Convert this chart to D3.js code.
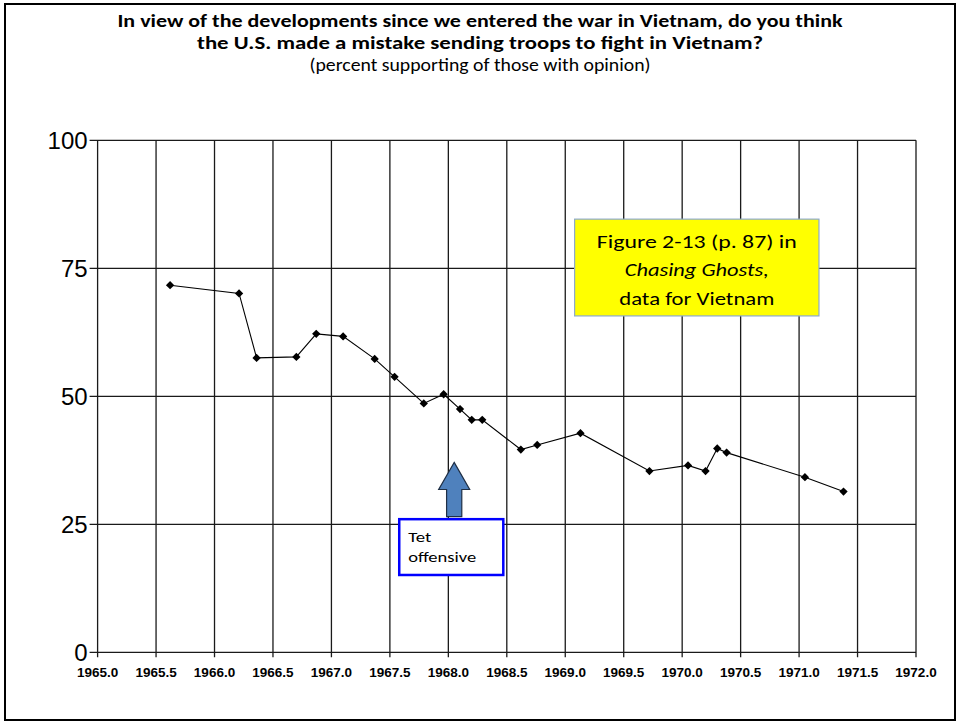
<!DOCTYPE html>
<html>
<head>
<meta charset="utf-8">
<script src="https://cdn.jsdelivr.net/npm/d3@7"></script>
<style>
  body { margin: 0; background: #fff; }
  svg { display: block; }
</style>
</head>
<body>
<div id="chart"></div>
<script>
// survey dates (decimal year) and percent saying "mistake"
const dates = [1965.62, 1966.21, 1966.36, 1966.70, 1966.87, 1967.10, 1967.37, 1967.54,
  1967.79, 1967.96, 1968.10, 1968.20, 1968.29, 1968.62, 1968.76, 1969.13,
  1969.72, 1970.05, 1970.20, 1970.30, 1970.38, 1971.05, 1971.38];
const pct = [71.7, 70.1, 57.5, 57.7, 62.2, 61.7, 57.3, 53.8,
  48.6, 50.4, 47.5, 45.4, 45.4, 39.6, 40.5, 42.8,
  35.4, 36.5, 35.4, 39.8, 39.0, 34.2, 31.4];
const xTicks = [1965.0, 1965.5, 1966.0, 1966.5, 1967.0, 1967.5, 1968.0, 1968.5,
  1969.0, 1969.5, 1970.0, 1970.5, 1971.0, 1971.5, 1972.0];
const yTicks = [0, 25, 50, 75, 100];
const titleLines = [
  "In view of the developments since we entered the war in Vietnam, do you think",
  "the U.S. made a mistake sending troops to fight in Vietnam?"
];
const subtitle = "(percent supporting of those with opinion)";
const noteLines = ["Figure 2-13 (p. 87) in", "Chasing Ghosts,", "data for Vietnam"];
const tetLines = ["Tet", "offensive"];

const width = 960, height = 723;
const plot = { left: 97.6, right: 916, top: 140.3, bottom: 652.3 };

const svg = d3.select("#chart").append("svg")
  .attr("width", width).attr("height", height);

// slide frame
svg.append("rect")
  .attr("x", 5).attr("y", 4).attr("width", 950).attr("height", 716)
  .attr("fill", "none").attr("stroke", "#000").attr("stroke-width", 2);

const x = d3.scaleLinear().domain([1965, 1972]).range([plot.left, plot.right]);
const y = d3.scaleLinear().domain([0, 100]).range([plot.bottom, plot.top]);

// title
const titleFont = "Carlito, 'Noto Sans', 'Open Sans', sans-serif";
const title = svg.append("g").attr("font-family", titleFont).attr("text-anchor", "middle");
title.append("text").attr("x", 480).attr("y", 27)
  .attr("font-size", 18).attr("font-weight", "bold")
  .attr("textLength", 725).attr("lengthAdjust", "spacingAndGlyphs")
  .text(titleLines[0]);
title.append("text").attr("x", 480).attr("y", 49)
  .attr("font-size", 18).attr("font-weight", "bold")
  .attr("textLength", 566).attr("lengthAdjust", "spacingAndGlyphs")
  .text(titleLines[1]);
title.append("text").attr("x", 480).attr("y", 71)
  .attr("font-size", 18)
  .attr("textLength", 341).attr("lengthAdjust", "spacingAndGlyphs")
  .text(subtitle);

// grid: horizontal
const grid = svg.append("g").attr("stroke", "#1a1a1a").attr("stroke-width", 1.3);
grid.selectAll("line.h").data(yTicks).join("line")
  .attr("class", "h")
  .attr("x1", plot.left - 8).attr("x2", plot.right)
  .attr("y1", d => y(d)).attr("y2", d => y(d));
grid.selectAll("line.v").data(xTicks).join("line")
  .attr("class", "v")
  .attr("x1", d => x(d)).attr("x2", d => x(d))
  .attr("y1", plot.top).attr("y2", plot.bottom + 5);

// y labels
svg.append("g").attr("font-family", "'Liberation Sans', Arial, sans-serif")
  .attr("font-size", 24).attr("text-anchor", "end").attr("fill", "#000")
  .selectAll("text").data(yTicks).join("text")
  .attr("x", plot.left - 10).attr("y", d => y(d)).attr("dy", "0.36em")
  .text(d => d);

// x labels
svg.append("g").attr("font-family", "'Liberation Sans', Arial, sans-serif")
  .attr("font-size", 13.5).attr("font-weight", "bold").attr("text-anchor", "middle")
  .selectAll("text").data(xTicks).join("text")
  .attr("x", d => x(d)).attr("y", plot.bottom + 25)
  .text(d => d3.format(".1f")(d));

// series
const pts = dates.map((d, i) => ({ t: d, v: pct[i] }));
svg.append("path").datum(pts)
  .attr("fill", "none").attr("stroke", "#000").attr("stroke-width", 1.1)
  .attr("d", d3.line().x(d => x(d.t)).y(d => y(d.v)));
svg.append("g").selectAll("path").data(pts).join("path")
  .attr("d", d3.symbol().type(d3.symbolDiamond2).size(44))
  .attr("transform", d => `translate(${x(d.t)},${y(d.v)})`)
  .attr("fill", "#000");

// yellow note box
const nb = { x0: 1969.08, x1: 1971.17, y0: 84.6, y1: 65.7 };
svg.append("rect")
  .attr("x", x(nb.x0)).attr("y", y(nb.y0))
  .attr("width", x(nb.x1) - x(nb.x0)).attr("height", y(nb.y1) - y(nb.y0))
  .attr("fill", "#ffff00").attr("stroke", "#8eaacb").attr("stroke-width", 1.2);
const noteCx = (x(nb.x0) + x(nb.x1)) / 2;
const note = svg.append("g").attr("font-family", titleFont).attr("font-size", 19)
  .attr("text-anchor", "middle").attr("fill", "#000");
[248, 276, 305].forEach((by, i) => {
  note.append("text").attr("x", noteCx).attr("y", by)
    .attr("font-style", i === 1 ? "italic" : "normal")
    .attr("textLength", [200, 144, 155][i]).attr("lengthAdjust", "spacingAndGlyphs")
    .text(noteLines[i]);
});

// Tet arrow
const ax = 1968.05;
const ah = { tip: 37.1, base: 31.8, foot: 26.5 };
const cx = x(ax);
const arrow = [
  [cx, y(ah.tip)], [cx + 15.5, y(ah.base)], [cx + 7.6, y(ah.base)], [cx + 7.6, y(ah.foot)],
  [cx - 7.6, y(ah.foot)], [cx - 7.6, y(ah.base)], [cx - 15.5, y(ah.base)]
];
svg.append("path")
  .attr("d", "M" + arrow.map(p => p.join(",")).join("L") + "Z")
  .attr("fill", "#4f81bd").attr("stroke", "#1f2f45").attr("stroke-width", 1.2);

// Tet box
const tb = { x0: 1967.58, x1: 1968.47, y0: 26.0, y1: 15.1 };
svg.append("rect")
  .attr("x", x(tb.x0)).attr("y", y(tb.y0))
  .attr("width", x(tb.x1) - x(tb.x0)).attr("height", y(tb.y1) - y(tb.y0))
  .attr("fill", "#fff").attr("stroke", "#0000ff").attr("stroke-width", 2.5);
const tet = svg.append("g").attr("font-family", titleFont).attr("font-size", 15).attr("fill", "#000");
tet.append("text").attr("x", x(tb.x0) + 9).attr("y", 542)
  .attr("textLength", 23).attr("lengthAdjust", "spacingAndGlyphs").text(tetLines[0]);
tet.append("text").attr("x", x(tb.x0) + 9).attr("y", 562)
  .attr("textLength", 68).attr("lengthAdjust", "spacingAndGlyphs").text(tetLines[1]);
</script>
</body>
</html>
